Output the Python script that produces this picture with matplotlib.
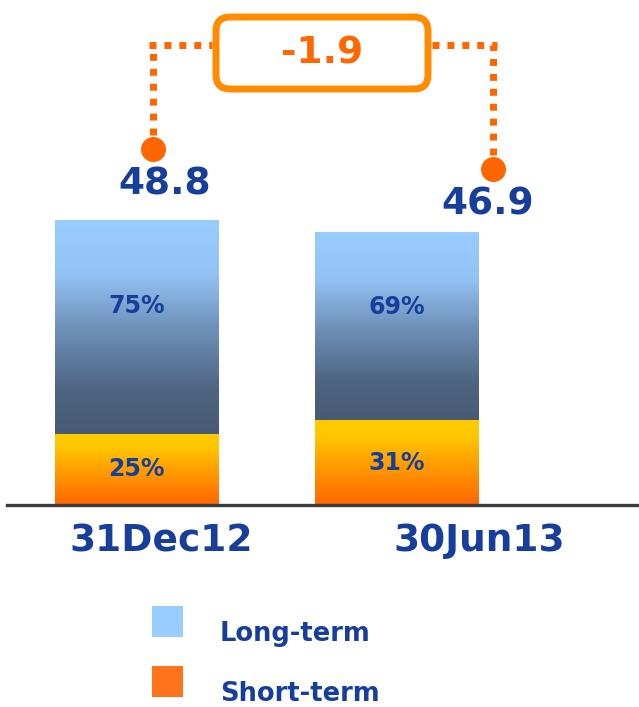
import numpy as np
import matplotlib
matplotlib.use("Agg")
import matplotlib.pyplot as plt
from matplotlib.colors import LinearSegmentedColormap
from matplotlib.patches import FancyBboxPatch, Rectangle
from matplotlib.transforms import offset_copy

# data
categories = ["31Dec12", "30Jun13"]
totals = [48.8, 46.9]
short_pct = [25, 31]
long_pct = [75, 69]
legend_labels = ["Long-term", "Short-term"]

short_vals = [t * s / 100 for t, s in zip(totals, short_pct)]
long_vals = [t * l / 100 for t, l in zip(totals, long_pct)]
change = totals[1] - totals[0]

W, H = 639, 707
navy = "#163E9A"
orange = "#FF6600"

fig = plt.figure(figsize=(W / 100, H / 100), dpi=100)
ax = fig.add_axes([7 / W, 1 - 505 / H, 1 - 7 / W, 505 / H])

x = np.arange(len(categories))
bw = 0.627

long_cmap = LinearSegmentedColormap.from_list(
    "lt", [(0, "#485B75"), (0.2, "#4D6480"), (0.5, "#7092BA"), (0.75, "#93C3F5"), (1, "#99CCFF")])
short_cmap = LinearSegmentedColormap.from_list(
    "st", [(0, "#FF6600"), (0.5, "#FFA000"), (0.8, "#FFC600"), (1, "#FFCC00")])

b_short = ax.bar(x, short_vals, width=bw, color="none", linewidth=0)
b_long = ax.bar(x, long_vals, bottom=short_vals, width=bw, color="none", linewidth=0)

grad = np.linspace(0, 1, 256).reshape(-1, 1)
for bars, cmap in [(b_short, short_cmap), (b_long, long_cmap)]:
    for p in bars:
        x0, y0 = p.get_x(), p.get_y()
        im = ax.imshow(grad, cmap=cmap, origin="lower", aspect="auto",
                       extent=[x0, x0 + p.get_width(), y0, y0 + p.get_height()], zorder=1)
        im.set_clip_path(p)

ax.set_xlim(-0.498, 1.933)
ax.set_ylim(0, 86.6)
for s in ["top", "left", "right"]:
    ax.spines[s].set_visible(False)
ax.spines["bottom"].set_linewidth(2.4)
ax.spines["bottom"].set_color("#3C3C3C")
ax.set_xticks([])
ax.set_yticks([])

# percent labels
for i in range(len(categories)):
    ax.text(x[i], short_vals[i] + long_vals[i] * 0.6, f"{long_pct[i]}%", ha="center", va="center",
            fontsize=17, fontweight="bold", color=navy, zorder=3)
    ax.text(x[i], short_vals[i] / 2, f"{short_pct[i]}%", ha="center", va="center",
            fontsize=17, fontweight="bold", color=navy, zorder=3)

# totals, category labels, circles
label_dx = [28.5, 91.5]
label_dy = [36, 27]
cat_dx = [24.5, 82.5]
dot_dx = [16.5, 96.5]
dot_dy = [71, 63]
dot_px = []
for i in range(len(categories)):
    t = offset_copy(ax.transData, fig, x=label_dx[i], y=label_dy[i], units="dots")
    ax.text(x[i], totals[i], f"{totals[i]:.1f}", transform=t, ha="center", va="center",
            fontsize=27, fontweight="bold", color=navy, clip_on=False)
    t = offset_copy(ax.transData, fig, x=cat_dx[i], y=-36, units="dots")
    ax.text(x[i], 0, categories[i], transform=t, ha="center", va="center",
            fontsize=27, fontweight="bold", color=navy, clip_on=False)
    t = offset_copy(ax.transData, fig, x=dot_dx[i], y=dot_dy[i], units="dots")
    ax.plot([x[i]], [totals[i]], "o", ms=17, color=orange, transform=t, clip_on=False, zorder=4)
    dot_px.append(ax.transData.transform((x[i], totals[i])) + np.array([dot_dx[i], dot_dy[i]]))

# bracket and change box (figure pixel coords, y from bottom)
box_l, box_r, box_b, box_t = 216, 428, H - 89, H - 17
line_y = H - 45
dot_kw = dict(color=orange, lw=5, linestyle=(0, (1, 1.15)), solid_capstyle="butt",
              dash_capstyle="butt", transform=None, zorder=5)
lx, ly = dot_px[0]
rx, ry = dot_px[1]
fig.add_artist(plt.Line2D([lx, lx], [ly + 14, line_y], **dot_kw))
fig.add_artist(plt.Line2D([lx - 4, box_l - 4], [line_y, line_y], **dot_kw))
fig.add_artist(plt.Line2D([rx, rx], [ry + 14, line_y], **dot_kw))
fig.add_artist(plt.Line2D([box_r + 4, rx + 4], [line_y, line_y], **dot_kw))

box = FancyBboxPatch((box_l, box_b), box_r - box_l, box_t - box_b,
                     boxstyle="round,pad=0,rounding_size=14", transform=None,
                     facecolor="white", edgecolor="#FF8C00", linewidth=5, zorder=6)
fig.add_artist(box)
fig.text((box_l + box_r) / 2 / W, (box_b + box_t) / 2 / H, f"{change:.1f}", ha="center", va="center",
         fontsize=27, fontweight="bold", color=orange, zorder=7)

# legend
leg_colors = ["#99CCFF", "#FF741A"]
leg_top = [606, 666]
for lab, c, top in zip(legend_labels, leg_colors, leg_top):
    fig.add_artist(Rectangle((152 / W, 1 - (top + 31) / H), 31 / W, 31 / H,
                             transform=fig.transFigure, facecolor=c, edgecolor="none"))
    fig.text(220 / W, 1 - (top + 28) / H, lab, ha="left", va="center",
             fontsize=18.5, fontweight="bold", color=navy)

fig.savefig("out.png", dpi=100)
